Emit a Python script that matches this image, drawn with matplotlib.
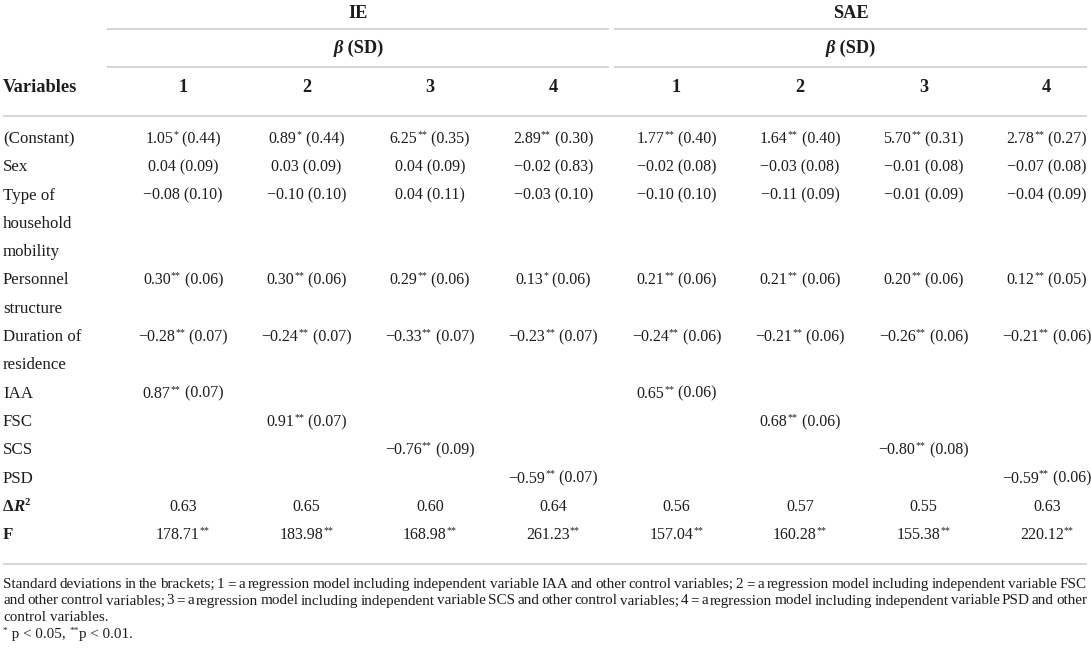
import matplotlib.pyplot as plt

# table content
groups = ["IE", "SAE"]
models = ["1", "2", "3", "4"]
row_labels = [
    ["(Constant)"],
    ["Sex"],
    ["Type of", "household", "mobility"],
    ["Personnel", "structure"],
    ["Duration of", "residence"],
    ["IAA"],
    ["FSC"],
    ["SCS"],
    ["PSD"],
]
constant = ["1.05|*| (0.44)", "0.89|*| (0.44)", "6.25|**| (0.35)", "2.89|**| (0.30)",
            "1.77|**| (0.40)", "1.64|**| (0.40)", "5.70|**| (0.31)", "2.78|**| (0.27)"]
sex = ["0.04 (0.09)", "0.03 (0.09)", "0.04 (0.09)", "\u22120.02 (0.83)",
       "\u22120.02 (0.08)", "\u22120.03 (0.08)", "\u22120.01 (0.08)", "\u22120.07 (0.08)"]
household = ["\u22120.08 (0.10)", "\u22120.10 (0.10)", "0.04 (0.11)", "\u22120.03 (0.10)",
             "\u22120.10 (0.10)", "\u22120.11 (0.09)", "\u22120.01 (0.09)", "\u22120.04 (0.09)"]
personnel = ["0.30|**| (0.06)", "0.30|**| (0.06)", "0.29|**| (0.06)", "0.13|*| (0.06)",
             "0.21|**| (0.06)", "0.21|**| (0.06)", "0.20|**| (0.06)", "0.12|**| (0.05)"]
duration = ["\u22120.28|**| (0.07)", "\u22120.24|**| (0.07)", "\u22120.33|**| (0.07)", "\u22120.23|**| (0.07)",
            "\u22120.24|**| (0.06)", "\u22120.21|**| (0.06)", "\u22120.26|**| (0.06)", "\u22120.21|**| (0.06)"]
iaa = ["0.87|**| (0.07)", "", "", "", "0.65|**| (0.06)", "", "", ""]
fsc = ["", "0.91|**| (0.07)", "", "", "", "0.68|**| (0.06)", "", ""]
scs = ["", "", "\u22120.76|**| (0.09)", "", "", "", "\u22120.80|**| (0.08)", ""]
psd = ["", "", "", "\u22120.59|**| (0.07)", "", "", "", "\u22120.59|**| (0.06)"]
delta_r2 = ["0.63", "0.65", "0.60", "0.64", "0.56", "0.57", "0.55", "0.63"]
f_values = ["178.71|**", "183.98|**", "168.98|**", "261.23|**",
            "157.04|**", "160.28|**", "155.38|**", "220.12|**"]
body_rows = [constant, sex, household, personnel, duration, iaa, fsc, scs, psd]

footnote = [
    "Standard deviations in the brackets; 1 = a regression model including independent variable IAA "
    "and other control variables; 2 = a regression model including independent variable FSC",
    "and other control variables; 3 = a regression model including independent variable SCS and other "
    "control variables; 4 = a regression model including independent variable PSD and other",
    "control variables.",
]

FONT = "Liberation Serif"
INK = "#1e1c1d"
RULE = "#d2d2d2"
BODY = 11.5
LABEL = 12.2
HEAD = 13.2
NOTE = 10.9

fig = plt.figure(figsize=(10.91, 6.54), dpi=100)
ax = fig.add_axes([0, 0, 1, 1])
ax.set_xlim(0, 1091)
ax.set_ylim(654, 0)
ax.axis('off')
fig.canvas.draw()
rend = fig.canvas.get_renderer()


def text_w(s, **kw):
    t = ax.text(0, 0, s, family=FONT, **kw)
    w = t.get_window_extent(rend).width
    t.remove()
    return w


def rich(x, yc, pieces, ha='center'):
    # pieces: (string, kwargs, raise_px)
    ws = [text_w(s, **kw) for s, kw, _ in pieces]
    start = x - sum(ws) / 2 if ha == 'center' else x
    base = yc + 5
    for (s, kw, dy), w in zip(pieces, ws):
        ax.text(start, base - dy, s, family=FONT, color=INK, va='baseline', ha='left', **kw)
        start += w


def cell(x, yc, s):
    pieces = []
    for i, p in enumerate(s.split("|")):
        if p == "":
            continue
        if i % 2 == 1:
            pieces.append((p, dict(fontsize=BODY * 0.62), 6))
        else:
            pieces.append((p, dict(fontsize=BODY), 0))
    rich(x, yc, pieces)


col_x = [183 + 123.4 * k for k in range(8)]
left = 3
right = 1087
row_h = 28.3
y0 = 138
spans = [(107, 609), (614, right)]

# header
for g, name in enumerate(groups):
    xs = col_x[4 * g:4 * g + 4]
    x1, x2 = spans[g]
    cx = (x1 + x2) / 2
    rich(cx, 13, [(name, dict(fontsize=HEAD, fontweight='bold'), 0)])
    rich(cx, 48, [("\u03b2", dict(fontsize=HEAD, fontweight='bold', fontstyle='italic'), 0),
                  (" (SD)", dict(fontsize=HEAD, fontweight='bold'), 0)])
    ax.plot([x1, x2], [29, 29], color=RULE, lw=1.3, solid_capstyle='butt')
    ax.plot([x1, x2], [67, 67], color=RULE, lw=1.3, solid_capstyle='butt')
    for k, m in enumerate(models):
        rich(xs[k], 87, [(m, dict(fontsize=HEAD, fontweight='bold'), 0)])
rich(left, 87, [("Variables", dict(fontsize=HEAD, fontweight='bold'), 0)], ha='left')
ax.plot([left, right], [116, 116], color=RULE, lw=1.3, solid_capstyle='butt')

# body
line = 0
for labels, vals in zip(row_labels, body_rows):
    yc = y0 + line * row_h
    for j, lab in enumerate(labels):
        rich(left, yc + j * row_h, [(lab, dict(fontsize=LABEL), 0)], ha='left')
    for k, v in enumerate(vals):
        if v:
            cell(col_x[k], yc, v)
    line += len(labels)

yc = y0 + line * row_h
rich(left, yc, [("\u0394", dict(fontsize=LABEL, fontweight='bold'), 0),
                ("R", dict(fontsize=LABEL, fontweight='bold', fontstyle='italic'), 0),
                ("2", dict(fontsize=LABEL * 0.62, fontweight='bold'), 6)], ha='left')
for k, v in enumerate(delta_r2):
    cell(col_x[k], yc, v)
line += 1
yc = y0 + line * row_h
rich(left, yc, [("F", dict(fontsize=LABEL, fontweight='bold'), 0)], ha='left')
for k, v in enumerate(f_values):
    cell(col_x[k], yc, v)

bottom_rule = yc + 30
ax.plot([left, right], [bottom_rule, bottom_rule], color=RULE, lw=1.3, solid_capstyle='butt')

# footnote, first two lines justified
note_y = [bottom_rule + 19 + 16.8 * i for i in range(4)]
space_w = text_w("a a", fontsize=NOTE) - text_w("aa", fontsize=NOTE)
for i, txt in enumerate(footnote):
    words = txt.split(" ")
    ws = [text_w(w, fontsize=NOTE) for w in words]
    gap = (right - left - sum(ws)) / (len(words) - 1) if i < 2 else space_w
    x = left
    for w, wd in zip(words, ws):
        ax.text(x, note_y[i] + 4.5, w, family=FONT, fontsize=NOTE, color=INK,
                ha='left', va='baseline')
        x += wd + gap

rich(left, note_y[3] - 0.5, [("*", dict(fontsize=NOTE * 0.62), 5),
                             (" p < 0.05, ", dict(fontsize=NOTE), 0),
                             ("**", dict(fontsize=NOTE * 0.62), 5),
                             ("p < 0.01.", dict(fontsize=NOTE), 0)], ha='left')

fig.savefig("out.png", dpi=100)
